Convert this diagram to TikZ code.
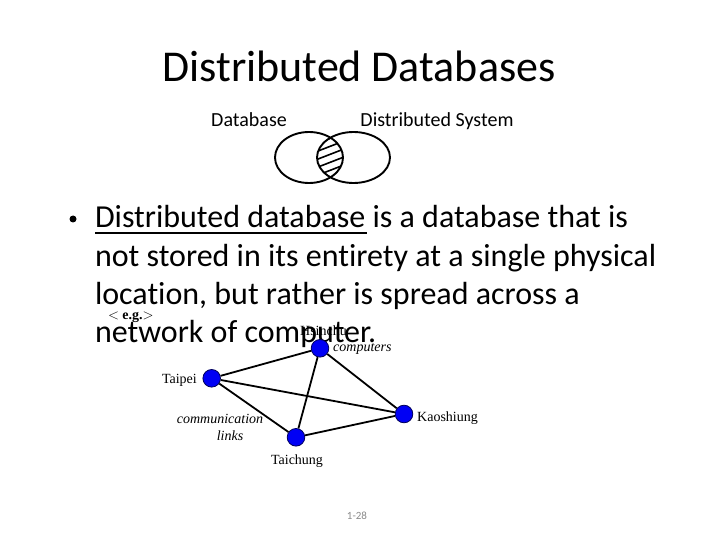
\documentclass[tikz,border=0pt]{standalone}
\usepackage{fontspec}
\setmainfont{Carlito}[Ligatures=NoCommon]
\newfontfamily\tms{Liberation Serif}
\definecolor{nodeblue}{RGB}{0,0,245}
\definecolor{nodeedge}{RGB}{0,0,90}
\definecolor{pagegray}{RGB}{137,137,137}
\begin{document}
\begin{tikzpicture}[x=1pt,y=-1pt,
  txt/.style={inner sep=0pt,outer sep=0pt},
  netnode/.style={circle,fill=nodeblue,draw=nodeedge,line width=0.8pt,minimum size=17.6pt,inner sep=0pt},
  netlabel/.style={inner sep=0pt,font=\tms\fontsize{14}{16}\selectfont},
  link/.style={line width=1.8pt,black},
  venn/.style={line width=1.9pt,black}]
\useasboundingbox (0,0) rectangle (720,540);
% title
\node[txt,anchor=base] (title) at (359,82) {\fontsize{44}{52}\selectfont Distributed Databases};
\node[txt,anchor=base] (ldb) at (249,127) {\fontsize{20}{24}\selectfont Database};
\node[txt,anchor=base] (lds) at (437,127) {\fontsize{20}{24}\selectfont Distributed System};
% venn diagram
\begin{scope}
  \clip (309,157.5) ellipse [x radius=34, y radius=25.5];
  \clip (353.5,157.5) ellipse [x radius=36.5, y radius=25.5];
  \foreach \c in {126,134,...,214} {
    \draw[line width=1.6pt] (300,\c) -- (362,\c-24);
  }
\end{scope}
\draw[venn] (309,157.5) ellipse [x radius=34, y radius=25.5];
\draw[venn] (353.5,157.5) ellipse [x radius=36.5, y radius=25.5];
% body text
\node[circle,fill=black,minimum size=7pt,inner sep=0pt] (bul) at (73,219) {};
\node[txt,anchor=base west] (l1) at (95,228) {\fontsize{32}{38}\selectfont Distributed database is a database that is};
\draw[line width=1.8pt] (95,233) -- (367,233);
\node[txt,anchor=base west] (l2) at (95,266) {\fontsize{32}{38}\selectfont not stored in its entirety at a single physical};
\node[txt,anchor=base west] (l3) at (95,304) {\fontsize{32}{38}\selectfont location, but rather is spread across a};
\node[txt,anchor=base west] (l4) at (95,342) {\fontsize{32}{38}\selectfont network of computer.};
\node[txt,anchor=base west] (eg) at (108,319) {\tms\fontsize{14}{16}\selectfont $<$ \textbf{e.g.}$>$};
% network
\node[netnode] (hs) at (320,348.3) {};
\node[netnode] (tp) at (211.7,378.3) {};
\node[netnode] (ks) at (404,414) {};
\node[netnode] (tc) at (296,437.3) {};
\draw[link] (tp) -- (hs);
\draw[link] (tp) -- (ks);
\draw[link] (tp) -- (tc);
\draw[link] (hs) -- (tc);
\draw[link] (hs) -- (ks);
\draw[link] (tc) -- (ks);
\node[netlabel,anchor=base] (hsl) at (323.5,335) {Hsinchu};
\node[netlabel,anchor=base west] (cpl) at (333,351) {\itshape computers};
\node[netlabel,anchor=base east] (tpl) at (197,383) {Taipei};
\node[netlabel,anchor=base west] (ksl) at (417,421) {Kaoshiung};
\node[netlabel,anchor=base] (tcl) at (297,464) {Taichung};
\node[netlabel,anchor=base] (cm1) at (220,423) {\itshape communication};
\node[netlabel,anchor=base] (cm2) at (230,440) {\itshape links};
% page number
\node[txt,anchor=base,text=pagegray] (pg) at (357,519) {\fontsize{11}{13}\selectfont 1-28};
\end{tikzpicture}
\end{document}
